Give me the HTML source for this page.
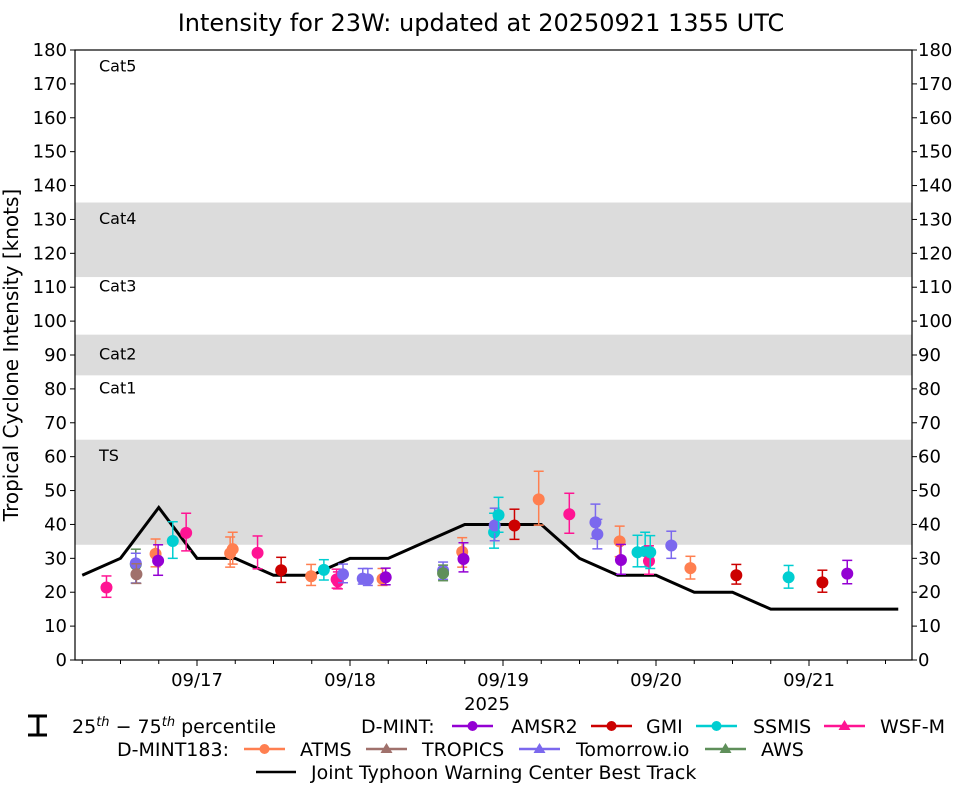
<!DOCTYPE html>
<html><head><meta charset="utf-8"><style>
body{margin:0;background:#fff}
svg{font-family:"DejaVu Sans","Liberation Sans",sans-serif}
</style></head><body>
<svg id="c" width="962" height="785" viewBox="0 0 962 785" xmlns="http://www.w3.org/2000/svg"></svg>
<script>
// ---- data ----
const bestHours=[-18,-12,-6,0,6,12,18,24,30,36,42,48,54,60,66,72,78,84,90,96,102,108,110];
const bestVals=[25,30,45,30,30,25,25,30,30,35,40,40,40,30,25,25,20,20,15,15,15,15,15];
const bandLo=[34,84,113];
const bandHi=[65,96,135];
const catNames=["Cat5","Cat4","Cat3","Cat2","Cat1","TS"];
const catVals=[174,129,109,89,79,59];
const yTicks=[0,10,20,30,40,50,60,70,80,90,100,110,120,130,140,150,160,170,180];
const dayLabels=["09/17","09/18","09/19","09/20","09/21"];
const dayHours=[0,24,48,72,96];
const sensors=["AMSR2","GMI","SSMIS","WSF-M","ATMS","TROPICS","Tomorrow.io","AWS"];
const sensorColors=["#9400d3","#cc0000","#00ced1","#ff1493","#ff7f50","#a0716c","#7b68ee","#5f8f5a"];
const obsSensor=[3,7,6,5,4,0,2,3,4,4,3,1,4,2,3,3,6,6,6,4,0,6,7,4,0,2,6,2,1,4,3,6,6,4,0,2,2,3,2,6,4,1,2,1,0];
const obsHours=[-14.2,-9.6,-9.6,-9.5,-6.5,-6.1,-3.8,-1.7,5.2,5.6,9.5,13.2,17.9,19.9,21.9,22.1,22.9,26.0,26.8,29.1,29.6,38.6,38.6,41.6,41.8,46.6,46.7,47.3,49.8,53.6,58.4,62.5,62.8,66.3,66.5,69.1,70.3,70.9,71.1,74.4,77.4,84.6,92.8,98.1,102.0];
const obsVals=[21.4,28.2,28.5,25.3,31.3,29.3,35.1,37.5,31.5,32.7,31.6,26.5,24.7,26.6,23.8,23.2,25.3,24.0,23.8,23.9,24.4,26.4,25.6,31.9,29.8,37.7,39.7,42.8,39.7,47.4,43.0,40.6,37.1,35.0,29.5,31.8,32.1,29.2,31.8,33.8,27.1,25.0,24.4,22.9,25.5];
const obsLo=[18.5,22.7,22.7,22.6,27.5,25.0,30.0,32.2,27.4,28.3,26.9,22.9,22.0,23.6,21.2,21.0,22.8,22.4,22.0,22.0,22.2,23.8,23.4,27.4,26.0,33.0,35.2,37.7,35.6,39.8,37.4,35.9,32.8,30.5,25.3,27.5,27.5,25.3,27.0,30.0,23.9,22.4,21.2,20.0,22.5];
const obsHi=[24.8,32.7,31.5,28.4,35.7,34.0,40.8,43.3,36.3,37.7,36.6,30.3,28.2,29.6,26.8,26.0,28.3,27.0,27.0,27.0,27.1,28.9,28.0,36.1,34.6,43.3,44.8,48.0,44.5,55.7,49.2,46.0,41.5,39.5,34.1,36.8,37.7,33.7,36.7,38.0,30.6,28.2,27.9,26.5,29.4];

// ---- axes ----
const X0=75,X1=912,Y0=660,Y1=50;
const hx=h=>197+h*153/24;
const vy=v=>Y0-(v/180)*(Y0-Y1);
const svg=document.getElementById('c');
const NS="http://www.w3.org/2000/svg";
function mk(tag,attrs,parent){const e=document.createElementNS(NS,tag);for(const k in attrs)e.setAttribute(k,attrs[k]);(parent||svg).appendChild(e);return e;}

const title=mk('text',{x:481,y:31,'text-anchor':'middle','font-size':24});
title.textContent="Intensity for 23W: updated at 20250921 1355 UTC";



const plot=mk('g',{});


for(let i=0;i<bandLo.length;i++){
  const r=mk('rect',{x:X0,y:vy(bandHi[i]),width:X1-X0,height:vy(bandLo[i])-vy(bandHi[i]),fill:'#dcdcdc'},plot);
  
  
}
for(let i=0;i<catNames.length;i++){
  const t=mk('text',{x:99,y:vy(catVals[i])+1,'font-size':16},plot);
  t.textContent=catNames[i];
  
  
}
const bt=mk('polyline',{points:bestHours.map((h,i)=>hx(h)+','+vy(bestVals[i])).join(' '),fill:'none',stroke:'#000','stroke-width':3},plot);


for(let i=0;i<obsHours.length;i++){
  const c=sensorColors[obsSensor[i]];const x=hx(obsHours[i]);
  const g=mk('g',{stroke:c,'stroke-width':1.5},plot);
  
  
  mk('line',{x1:x,x2:x,y1:vy(obsLo[i]),y2:vy(obsHi[i])},g);
  mk('line',{x1:x-5,x2:x+5,y1:vy(obsLo[i]),y2:vy(obsLo[i])},g);
  mk('line',{x1:x-5,x2:x+5,y1:vy(obsHi[i]),y2:vy(obsHi[i])},g);
  mk('circle',{cx:x,cy:vy(obsVals[i]),r:6,fill:c,stroke:'none'},g);
}
const fr=mk('rect',{x:X0,y:Y1,width:X1-X0,height:Y0-Y1,fill:'none',stroke:'#000','stroke-width':1.2});


for(const v of yTicks){
  const y=vy(v);
  mk('line',{x1:X0-5,x2:X0,y1:y,y2:y,stroke:'#000'});
  mk('line',{x1:X1,x2:X1+5,y1:y,y2:y,stroke:'#000'});
  const l=mk('text',{x:X0-8,y:y+6,'text-anchor':'end','font-size':18});l.textContent=v;
  
  
  const r=mk('text',{x:X1+6,y:y+6,'font-size':18});r.textContent=v;
  
  
}
for(let h=-18;h<=108;h+=6){
  const major=h%24===0;
  mk('line',{x1:hx(h),x2:hx(h),y1:Y0,y2:Y0+(major?6:4),stroke:'#000'});
}
for(let i=0;i<dayLabels.length;i++){
  const t=mk('text',{x:hx(dayHours[i]),y:686,'text-anchor':'middle','font-size':18});t.textContent=dayLabels[i];
  
  
}
const yr=mk('text',{x:487,y:710,'text-anchor':'middle','font-size':18});yr.textContent="2025";


const yt=mk('text',{x:0,y:0,'text-anchor':'middle','font-size':20,transform:'translate(18,355) rotate(-90)'});
yt.textContent="Tropical Cyclone Intensity [knots]";



// legend
const lg=mk('g',{'font-size':19});


const eb=mk('g',{stroke:'#000','stroke-width':3},lg);


mk('line',{x1:38,x2:38,y1:716,y2:735},eb);mk('line',{x1:28,x2:47,y1:716,y2:716},eb);mk('line',{x1:28,x2:47,y1:735,y2:735},eb);
const pt=mk('text',{x:72,y:733},lg);
pt.innerHTML='25<tspan font-size="13" font-style="italic" dy="-7">th</tspan><tspan dy="7"> − 75</tspan><tspan font-size="13" font-style="italic" dy="-7">th</tspan><tspan dy="7"> percentile</tspan>';


function txt(x,y,s,name){const t=mk('text',{x:x,y:y},lg);t.textContent=s;}
txt(361,733,"D-MINT:","legend-dmint-label");
txt(117,756,"D-MINT183:","legend-dmint183-label");
const legX=[452,591,696,824,244,366,519,705];
const legT=[511,646,753,880,300,422,576,761];
const legY=[726,726,726,726,749,749,749,749];
const tri=[false,false,false,true,false,true,true,true];
for(let i=0;i<8;i++){
  const g=mk('g',{},lg);
  
  
  const c=sensorColors[i],y=legY[i],x=legX[i];
  mk('line',{x1:x,x2:x+41,y1:y,y2:y,stroke:c,'stroke-width':2.5},g);
  if(tri[i]) mk('polygon',{points:`${x+20.5},${y-6} ${x+26.5},${y+4} ${x+14.5},${y+4}`,fill:c},g);
  else mk('circle',{cx:x+20.5,cy:y,r:5,fill:c},g);
  const t=mk('text',{x:legT[i],y:y+7},g);t.textContent=sensors[i];
}
const bg=mk('g',{},lg);


mk('line',{x1:256,x2:296,y1:772,y2:772,stroke:'#000','stroke-width':2.5},bg);
const bt2=mk('text',{x:311,y:779},bg);bt2.textContent="Joint Typhoon Warning Center Best Track";
</script>
</body></html>
